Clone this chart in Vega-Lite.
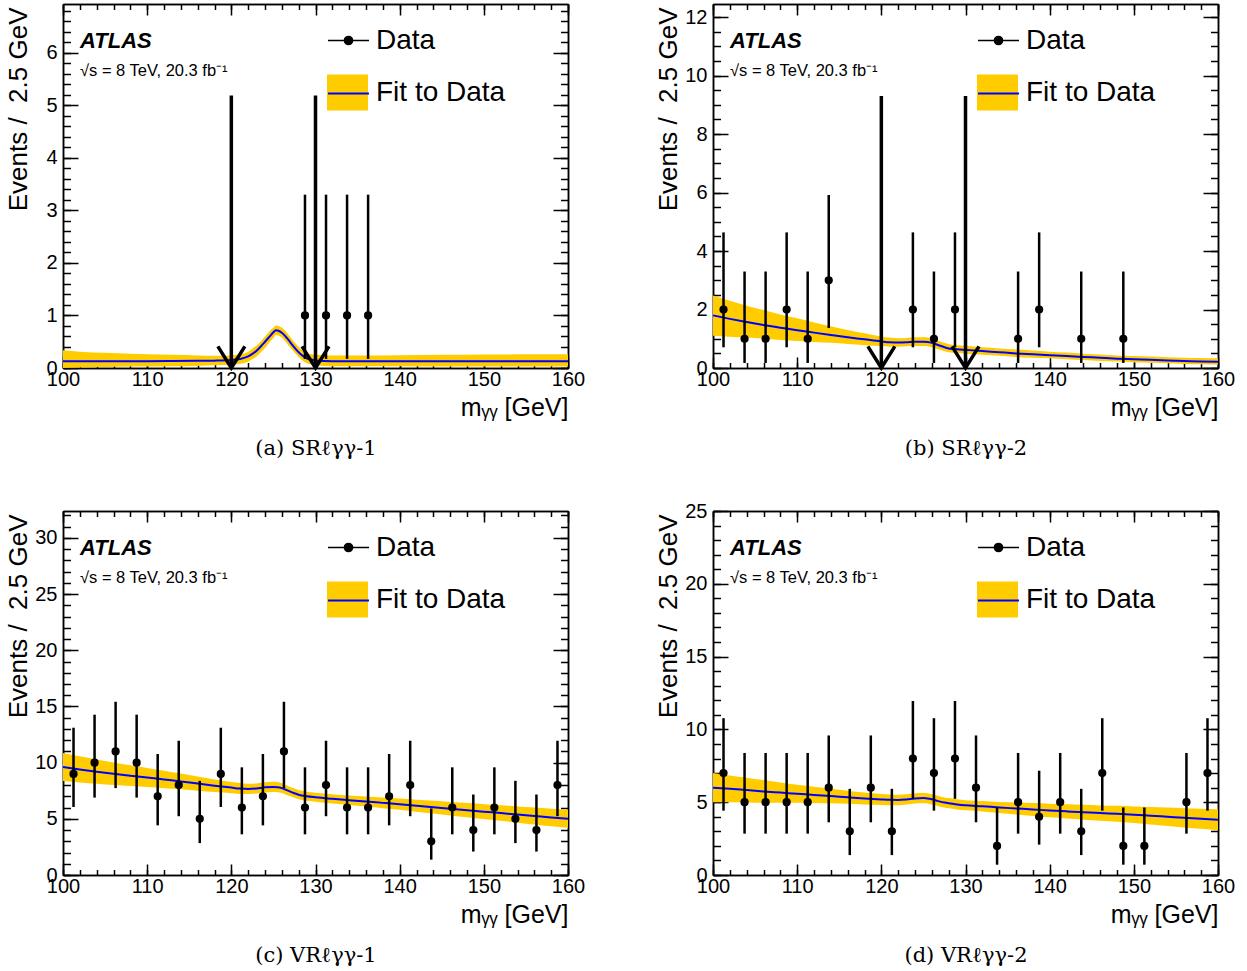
{
  "$schema": "https://vega.github.io/schema/vega-lite/v6.json",
  "background": "white",
  "padding": {"left": 4, "top": 3, "right": 5, "bottom": 5},
  "columns": 2,
  "spacing": {"column": 145, "row": 143},
  "bounds": "flush",
  "resolve": {"scale": {"fill": "independent", "stroke": "independent", "opacity": "independent"}},
  "datasets": {
    "fitA": [
      {"x": 100, "y": 0.13, "lo": 0.0, "hi": 0.34},
      {"x": 102, "y": 0.13, "lo": 0.01, "hi": 0.31},
      {"x": 105, "y": 0.13, "lo": 0.02, "hi": 0.29},
      {"x": 108, "y": 0.13, "lo": 0.03, "hi": 0.27},
      {"x": 110, "y": 0.13, "lo": 0.03, "hi": 0.26},
      {"x": 113, "y": 0.133, "lo": 0.035, "hi": 0.25},
      {"x": 116, "y": 0.137, "lo": 0.04, "hi": 0.24},
      {"x": 118, "y": 0.14, "lo": 0.05, "hi": 0.235},
      {"x": 120, "y": 0.15, "lo": 0.06, "hi": 0.24},
      {"x": 121, "y": 0.17, "lo": 0.08, "hi": 0.26},
      {"x": 122, "y": 0.22, "lo": 0.12, "hi": 0.31},
      {"x": 122.5, "y": 0.27, "lo": 0.17, "hi": 0.37},
      {"x": 123, "y": 0.33, "lo": 0.22, "hi": 0.43},
      {"x": 123.5, "y": 0.41, "lo": 0.3, "hi": 0.51},
      {"x": 124, "y": 0.5, "lo": 0.38, "hi": 0.6},
      {"x": 124.5, "y": 0.59, "lo": 0.48, "hi": 0.69},
      {"x": 125, "y": 0.68, "lo": 0.57, "hi": 0.77},
      {"x": 125.3, "y": 0.72, "lo": 0.63, "hi": 0.81},
      {"x": 125.6, "y": 0.71, "lo": 0.62, "hi": 0.8},
      {"x": 126, "y": 0.67, "lo": 0.58, "hi": 0.77},
      {"x": 126.5, "y": 0.59, "lo": 0.49, "hi": 0.69},
      {"x": 127, "y": 0.49, "lo": 0.39, "hi": 0.59},
      {"x": 127.5, "y": 0.39, "lo": 0.3, "hi": 0.49},
      {"x": 128, "y": 0.3, "lo": 0.21, "hi": 0.4},
      {"x": 128.5, "y": 0.23, "lo": 0.14, "hi": 0.33},
      {"x": 129, "y": 0.18, "lo": 0.09, "hi": 0.28},
      {"x": 129.5, "y": 0.16, "lo": 0.07, "hi": 0.26},
      {"x": 130, "y": 0.145, "lo": 0.05, "hi": 0.25},
      {"x": 131, "y": 0.135, "lo": 0.04, "hi": 0.24},
      {"x": 133, "y": 0.13, "lo": 0.035, "hi": 0.24},
      {"x": 136, "y": 0.13, "lo": 0.035, "hi": 0.24},
      {"x": 140, "y": 0.13, "lo": 0.035, "hi": 0.245},
      {"x": 145, "y": 0.13, "lo": 0.03, "hi": 0.25},
      {"x": 150, "y": 0.13, "lo": 0.03, "hi": 0.255},
      {"x": 155, "y": 0.13, "lo": 0.03, "hi": 0.26},
      {"x": 160, "y": 0.13, "lo": 0.03, "hi": 0.26}
    ],
    "ptsA": [
      {"x": 128.75, "n": 1, "lo": 0.173, "hi": 3.3},
      {"x": 131.25, "n": 1, "lo": 0.173, "hi": 3.3},
      {"x": 133.75, "n": 1, "lo": 0.173, "hi": 3.3},
      {"x": 136.25, "n": 1, "lo": 0.173, "hi": 3.3}
    ],
    "arrA": [
      {"x": 120, "y0": 0, "y1": 5.19},
      {"x": 130, "y0": 0, "y1": 5.19}
    ],
    "fitB": [
      {"x": 100, "y": 1.8, "lo": 1.1, "hi": 2.48},
      {"x": 102, "y": 1.68, "lo": 1.07, "hi": 2.3},
      {"x": 104, "y": 1.57, "lo": 1.04, "hi": 2.13},
      {"x": 106, "y": 1.47, "lo": 1.0, "hi": 1.98},
      {"x": 108, "y": 1.38, "lo": 0.96, "hi": 1.83},
      {"x": 110, "y": 1.29, "lo": 0.92, "hi": 1.7},
      {"x": 112, "y": 1.21, "lo": 0.89, "hi": 1.56},
      {"x": 114, "y": 1.13, "lo": 0.86, "hi": 1.43},
      {"x": 116, "y": 1.05, "lo": 0.82, "hi": 1.3},
      {"x": 118, "y": 0.98, "lo": 0.78, "hi": 1.19},
      {"x": 120, "y": 0.91, "lo": 0.75, "hi": 1.08},
      {"x": 121, "y": 0.88, "lo": 0.73, "hi": 1.04},
      {"x": 122, "y": 0.87, "lo": 0.73, "hi": 1.02},
      {"x": 123, "y": 0.88, "lo": 0.74, "hi": 1.03},
      {"x": 124, "y": 0.9, "lo": 0.75, "hi": 1.05},
      {"x": 125, "y": 0.9, "lo": 0.75, "hi": 1.05},
      {"x": 125.5, "y": 0.89, "lo": 0.74, "hi": 1.04},
      {"x": 126, "y": 0.86, "lo": 0.71, "hi": 1.01},
      {"x": 126.5, "y": 0.81, "lo": 0.67, "hi": 0.96},
      {"x": 127, "y": 0.76, "lo": 0.62, "hi": 0.91},
      {"x": 127.5, "y": 0.71, "lo": 0.57, "hi": 0.86},
      {"x": 128, "y": 0.67, "lo": 0.54, "hi": 0.81},
      {"x": 129, "y": 0.64, "lo": 0.51, "hi": 0.78},
      {"x": 130, "y": 0.62, "lo": 0.49, "hi": 0.76},
      {"x": 132, "y": 0.58, "lo": 0.45, "hi": 0.71},
      {"x": 134, "y": 0.54, "lo": 0.42, "hi": 0.67},
      {"x": 136, "y": 0.5, "lo": 0.38, "hi": 0.63},
      {"x": 138, "y": 0.47, "lo": 0.35, "hi": 0.6},
      {"x": 140, "y": 0.44, "lo": 0.33, "hi": 0.56},
      {"x": 142, "y": 0.41, "lo": 0.3, "hi": 0.53},
      {"x": 144, "y": 0.38, "lo": 0.27, "hi": 0.49},
      {"x": 146, "y": 0.35, "lo": 0.24, "hi": 0.46},
      {"x": 148, "y": 0.32, "lo": 0.22, "hi": 0.43},
      {"x": 150, "y": 0.3, "lo": 0.2, "hi": 0.41},
      {"x": 152, "y": 0.28, "lo": 0.18, "hi": 0.39},
      {"x": 154, "y": 0.26, "lo": 0.16, "hi": 0.37},
      {"x": 156, "y": 0.24, "lo": 0.14, "hi": 0.35},
      {"x": 158, "y": 0.22, "lo": 0.13, "hi": 0.34},
      {"x": 160, "y": 0.21, "lo": 0.12, "hi": 0.33}
    ],
    "ptsB": [
      {"x": 101.25, "n": 2, "lo": 0.708, "hi": 4.638},
      {"x": 103.75, "n": 1, "lo": 0.173, "hi": 3.3},
      {"x": 106.25, "n": 1, "lo": 0.173, "hi": 3.3},
      {"x": 108.75, "n": 2, "lo": 0.708, "hi": 4.638},
      {"x": 111.25, "n": 1, "lo": 0.173, "hi": 3.3},
      {"x": 113.75, "n": 3, "lo": 1.367, "hi": 5.918},
      {"x": 123.75, "n": 2, "lo": 0.708, "hi": 4.638},
      {"x": 126.25, "n": 1, "lo": 0.173, "hi": 3.3},
      {"x": 128.75, "n": 2, "lo": 0.708, "hi": 4.638},
      {"x": 136.25, "n": 1, "lo": 0.173, "hi": 3.3},
      {"x": 138.75, "n": 2, "lo": 0.708, "hi": 4.638},
      {"x": 143.75, "n": 1, "lo": 0.173, "hi": 3.3},
      {"x": 148.75, "n": 1, "lo": 0.173, "hi": 3.3}
    ],
    "arrB": [
      {"x": 120, "y0": 0, "y1": 9.3},
      {"x": 130, "y0": 0, "y1": 9.3}
    ],
    "fitC": [
      {"x": 100, "y": 9.62, "lo": 8.37, "hi": 10.87},
      {"x": 102, "y": 9.4, "lo": 8.24, "hi": 10.56},
      {"x": 104, "y": 9.2, "lo": 8.12, "hi": 10.28},
      {"x": 106, "y": 9.01, "lo": 8.01, "hi": 10.01},
      {"x": 108, "y": 8.84, "lo": 7.92, "hi": 9.76},
      {"x": 110, "y": 8.68, "lo": 7.83, "hi": 9.53},
      {"x": 112, "y": 8.5, "lo": 7.72, "hi": 9.28},
      {"x": 114, "y": 8.33, "lo": 7.63, "hi": 9.03},
      {"x": 116, "y": 8.14, "lo": 7.51, "hi": 8.77},
      {"x": 118, "y": 7.95, "lo": 7.39, "hi": 8.51},
      {"x": 120, "y": 7.78, "lo": 7.28, "hi": 8.28},
      {"x": 121, "y": 7.7, "lo": 7.22, "hi": 8.18},
      {"x": 122, "y": 7.66, "lo": 7.2, "hi": 8.12},
      {"x": 123, "y": 7.7, "lo": 7.25, "hi": 8.15},
      {"x": 124, "y": 7.8, "lo": 7.35, "hi": 8.25},
      {"x": 125, "y": 7.84, "lo": 7.39, "hi": 8.29},
      {"x": 125.5, "y": 7.82, "lo": 7.37, "hi": 8.27},
      {"x": 126, "y": 7.73, "lo": 7.29, "hi": 8.17},
      {"x": 126.5, "y": 7.58, "lo": 7.15, "hi": 8.01},
      {"x": 127, "y": 7.42, "lo": 7.0, "hi": 7.84},
      {"x": 127.5, "y": 7.28, "lo": 6.87, "hi": 7.69},
      {"x": 128, "y": 7.15, "lo": 6.74, "hi": 7.56},
      {"x": 129, "y": 7.01, "lo": 6.61, "hi": 7.41},
      {"x": 130, "y": 6.92, "lo": 6.52, "hi": 7.32},
      {"x": 132, "y": 6.78, "lo": 6.37, "hi": 7.19},
      {"x": 134, "y": 6.66, "lo": 6.24, "hi": 7.08},
      {"x": 136, "y": 6.54, "lo": 6.1, "hi": 6.98},
      {"x": 138, "y": 6.42, "lo": 5.95, "hi": 6.89},
      {"x": 140, "y": 6.3, "lo": 5.8, "hi": 6.8},
      {"x": 142, "y": 6.17, "lo": 5.64, "hi": 6.7},
      {"x": 144, "y": 6.04, "lo": 5.47, "hi": 6.61},
      {"x": 146, "y": 5.9, "lo": 5.3, "hi": 6.5},
      {"x": 148, "y": 5.77, "lo": 5.14, "hi": 6.4},
      {"x": 150, "y": 5.64, "lo": 4.98, "hi": 6.3},
      {"x": 152, "y": 5.51, "lo": 4.82, "hi": 6.2},
      {"x": 154, "y": 5.38, "lo": 4.66, "hi": 6.1},
      {"x": 156, "y": 5.25, "lo": 4.5, "hi": 6.0},
      {"x": 158, "y": 5.12, "lo": 4.34, "hi": 5.9},
      {"x": 160, "y": 5.0, "lo": 4.2, "hi": 5.8}
    ],
    "ptsC": [
      {"x": 101.25, "n": 9, "lo": 6.057, "hi": 13.11},
      {"x": 103.75, "n": 10, "lo": 6.891, "hi": 14.27},
      {"x": 106.25, "n": 11, "lo": 7.734, "hi": 15.42},
      {"x": 108.75, "n": 10, "lo": 6.891, "hi": 14.27},
      {"x": 111.25, "n": 7, "lo": 4.419, "hi": 10.77},
      {"x": 113.75, "n": 8, "lo": 5.232, "hi": 11.95},
      {"x": 116.25, "n": 5, "lo": 2.84, "hi": 8.382},
      {"x": 118.75, "n": 9, "lo": 6.057, "hi": 13.11},
      {"x": 121.25, "n": 6, "lo": 3.62, "hi": 9.584},
      {"x": 123.75, "n": 7, "lo": 4.419, "hi": 10.77},
      {"x": 126.25, "n": 11, "lo": 7.734, "hi": 15.42},
      {"x": 128.75, "n": 6, "lo": 3.62, "hi": 9.584},
      {"x": 131.25, "n": 8, "lo": 5.232, "hi": 11.95},
      {"x": 133.75, "n": 6, "lo": 3.62, "hi": 9.584},
      {"x": 136.25, "n": 6, "lo": 3.62, "hi": 9.584},
      {"x": 138.75, "n": 7, "lo": 4.419, "hi": 10.77},
      {"x": 141.25, "n": 8, "lo": 5.232, "hi": 11.95},
      {"x": 143.75, "n": 3, "lo": 1.367, "hi": 5.918},
      {"x": 146.25, "n": 6, "lo": 3.62, "hi": 9.584},
      {"x": 148.75, "n": 4, "lo": 2.086, "hi": 7.163},
      {"x": 151.25, "n": 6, "lo": 3.62, "hi": 9.584},
      {"x": 153.75, "n": 5, "lo": 2.84, "hi": 8.382},
      {"x": 156.25, "n": 4, "lo": 2.086, "hi": 7.163},
      {"x": 158.75, "n": 8, "lo": 5.232, "hi": 11.95}
    ],
    "fitD": [
      {"x": 100, "y": 6.0, "lo": 5.0, "hi": 7.0},
      {"x": 102, "y": 5.92, "lo": 5.0, "hi": 6.84},
      {"x": 104, "y": 5.83, "lo": 4.98, "hi": 6.68},
      {"x": 106, "y": 5.74, "lo": 4.96, "hi": 6.52},
      {"x": 108, "y": 5.66, "lo": 4.96, "hi": 6.36},
      {"x": 110, "y": 5.58, "lo": 4.96, "hi": 6.2},
      {"x": 112, "y": 5.5, "lo": 4.94, "hi": 6.06},
      {"x": 114, "y": 5.42, "lo": 4.92, "hi": 5.92},
      {"x": 116, "y": 5.34, "lo": 4.89, "hi": 5.79},
      {"x": 118, "y": 5.26, "lo": 4.85, "hi": 5.67},
      {"x": 120, "y": 5.19, "lo": 4.81, "hi": 5.57},
      {"x": 121, "y": 5.16, "lo": 4.79, "hi": 5.53},
      {"x": 122, "y": 5.15, "lo": 4.79, "hi": 5.51},
      {"x": 123, "y": 5.19, "lo": 4.84, "hi": 5.54},
      {"x": 124, "y": 5.26, "lo": 4.91, "hi": 5.61},
      {"x": 125, "y": 5.28, "lo": 4.93, "hi": 5.63},
      {"x": 125.5, "y": 5.26, "lo": 4.91, "hi": 5.61},
      {"x": 126, "y": 5.2, "lo": 4.85, "hi": 5.55},
      {"x": 126.5, "y": 5.12, "lo": 4.77, "hi": 5.47},
      {"x": 127, "y": 5.04, "lo": 4.69, "hi": 5.39},
      {"x": 127.5, "y": 4.98, "lo": 4.63, "hi": 5.33},
      {"x": 128, "y": 4.93, "lo": 4.58, "hi": 5.28},
      {"x": 129, "y": 4.85, "lo": 4.5, "hi": 5.2},
      {"x": 130, "y": 4.79, "lo": 4.44, "hi": 5.14},
      {"x": 132, "y": 4.72, "lo": 4.36, "hi": 5.08},
      {"x": 134, "y": 4.64, "lo": 4.26, "hi": 5.02},
      {"x": 136, "y": 4.57, "lo": 4.16, "hi": 4.98},
      {"x": 138, "y": 4.5, "lo": 4.06, "hi": 4.94},
      {"x": 140, "y": 4.43, "lo": 3.96, "hi": 4.9},
      {"x": 142, "y": 4.37, "lo": 3.88, "hi": 4.86},
      {"x": 144, "y": 4.31, "lo": 3.8, "hi": 4.82},
      {"x": 146, "y": 4.25, "lo": 3.72, "hi": 4.78},
      {"x": 148, "y": 4.2, "lo": 3.65, "hi": 4.75},
      {"x": 150, "y": 4.14, "lo": 3.57, "hi": 4.71},
      {"x": 152, "y": 4.07, "lo": 3.47, "hi": 4.67},
      {"x": 154, "y": 4.0, "lo": 3.37, "hi": 4.63},
      {"x": 156, "y": 3.93, "lo": 3.27, "hi": 4.59},
      {"x": 158, "y": 3.86, "lo": 3.17, "hi": 4.55},
      {"x": 160, "y": 3.79, "lo": 3.07, "hi": 4.51}
    ],
    "ptsD": [
      {"x": 101.25, "n": 7, "lo": 4.419, "hi": 10.77},
      {"x": 103.75, "n": 5, "lo": 2.84, "hi": 8.382},
      {"x": 106.25, "n": 5, "lo": 2.84, "hi": 8.382},
      {"x": 108.75, "n": 5, "lo": 2.84, "hi": 8.382},
      {"x": 111.25, "n": 5, "lo": 2.84, "hi": 8.382},
      {"x": 113.75, "n": 6, "lo": 3.62, "hi": 9.584},
      {"x": 116.25, "n": 3, "lo": 1.367, "hi": 5.918},
      {"x": 118.75, "n": 6, "lo": 3.62, "hi": 9.584},
      {"x": 121.25, "n": 3, "lo": 1.367, "hi": 5.918},
      {"x": 123.75, "n": 8, "lo": 5.232, "hi": 11.95},
      {"x": 126.25, "n": 7, "lo": 4.419, "hi": 10.77},
      {"x": 128.75, "n": 8, "lo": 5.232, "hi": 11.95},
      {"x": 131.25, "n": 6, "lo": 3.62, "hi": 9.584},
      {"x": 133.75, "n": 2, "lo": 0.708, "hi": 4.638},
      {"x": 136.25, "n": 5, "lo": 2.84, "hi": 8.382},
      {"x": 138.75, "n": 4, "lo": 2.086, "hi": 7.163},
      {"x": 141.25, "n": 5, "lo": 2.84, "hi": 8.382},
      {"x": 143.75, "n": 3, "lo": 1.367, "hi": 5.918},
      {"x": 146.25, "n": 7, "lo": 4.419, "hi": 10.77},
      {"x": 148.75, "n": 2, "lo": 0.708, "hi": 4.638},
      {"x": 151.25, "n": 2, "lo": 0.708, "hi": 4.638},
      {"x": 156.25, "n": 5, "lo": 2.84, "hi": 8.382},
      {"x": 158.75, "n": 7, "lo": 4.419, "hi": 10.77}
    ]
  },
  "concat": [
    {
      "width": 505, "height": 364,
      "title": {"text": "ATLAS", "subtitle": "√s = 8 TeV, 20.3 fb⁻¹"},
      "resolve": {"axis": {"x": "independent", "y": "independent"}},
      "layer": [
        {"data": {"name": "fitA"}, "mark": {"type": "area", "interpolate": "monotone"},
         "encoding": {
           "x": {"field": "x", "type": "quantitative", "scale": {"domain": [100, 160], "nice": false},
                 "axis": {"orient": "bottom", "values": [100,110,120,130,140,150,160], "tickSize": -11, "labelPadding": 12, "title": "mᵧᵧ [GeV]", "titleAnchor": "end", "titleBaseline": "alphabetic", "titleY": 47}},
           "y": {"field": "lo", "type": "quantitative", "scale": {"domain": [0, 6.93], "nice": false},
                 "axis": {"orient": "left", "values": [0,1,2,3,4,5,6], "tickSize": -15, "labelPadding": 21, "title": "Events / \u00a02.5 GeV", "titleFontSize": 26, "titleAnchor": "end", "titleX": -32, "titleY": 3}},
           "y2": {"field": "hi"},
           "fill": {"datum": "Fit to Data", "scale": {"range": ["#ffcc00"]},
                    "legend": {"orient": "none", "legendX": 264, "legendY": 68, "title": null, "symbolType": "M-1,-0.88H1V0.88H-1Z", "symbolStrokeWidth": 0, "labelOffset": 8}}
         }},
        {"data": {"name": "fitA"}, "mark": {"type": "line", "interpolate": "monotone", "strokeWidth": 2},
         "encoding": {
           "x": {"field": "x", "type": "quantitative", "scale": {"domain": [100, 160], "nice": false},
                 "axis": {"orient": "top", "values": [100,110,120,130,140,150,160], "tickSize": -11, "labels": false, "title": null}},
           "y": {"field": "y", "type": "quantitative", "scale": {"domain": [0, 6.93], "nice": false},
                 "axis": {"orient": "right", "values": [0,1,2,3,4,5,6], "tickSize": -15, "labels": false, "title": null}},
           "stroke": {"datum": "Fit", "scale": {"range": ["#0000ff"]},
                      "legend": {"orient": "none", "legendX": 264, "legendY": 68, "title": null, "symbolType": "M-1,0H1", "symbolStrokeWidth": 2, "labelExpr": "''"}}
         }},
        {"data": {"name": "ptsA"}, "mark": {"type": "rule", "color": "black", "strokeWidth": 2.5},
         "encoding": {
           "x": {"field": "x", "type": "quantitative", "scale": {"domain": [100, 160], "nice": false},
                 "axis": {"orient": "bottom", "values": [100,102,104,106,108,110,112,114,116,118,120,122,124,126,128,130,132,134,136,138,140,142,144,146,148,150,152,154,156,158,160], "tickSize": -5.5, "labels": false, "title": "(a) SRℓγγ-1", "titleFont": "DejaVu Serif", "titleFontSize": 21, "titleAnchor": "middle", "titleBaseline": "alphabetic", "titleY": 86}},
           "y": {"field": "lo", "type": "quantitative", "scale": {"domain": [0, 6.93], "nice": false},
                 "axis": {"orient": "left", "values": [0,0.2,0.4,0.6,0.8,1,1.2,1.4,1.6,1.8,2,2.2,2.4,2.6,2.8,3,3.2,3.4,3.6,3.8,4,4.2,4.4,4.6,4.8,5,5.2,5.4,5.6,5.8,6,6.2,6.4,6.6,6.8], "tickSize": -7.5, "labels": false, "title": null}},
           "y2": {"field": "hi"}
         }},
        {"data": {"name": "ptsA"}, "mark": {"type": "point", "filled": true, "color": "black", "stroke": "black", "strokeWidth": 1.5, "size": 45},
         "encoding": {
           "x": {"field": "x", "type": "quantitative", "scale": {"domain": [100, 160], "nice": false},
                 "axis": {"orient": "top", "values": [100,102,104,106,108,110,112,114,116,118,120,122,124,126,128,130,132,134,136,138,140,142,144,146,148,150,152,154,156,158,160], "tickSize": -5.5, "labels": false, "title": null}},
           "y": {"field": "n", "type": "quantitative", "scale": {"domain": [0, 6.93], "nice": false},
                 "axis": {"orient": "right", "values": [0,0.2,0.4,0.6,0.8,1,1.2,1.4,1.6,1.8,2,2.2,2.4,2.6,2.8,3,3.2,3.4,3.6,3.8,4,4.2,4.4,4.6,4.8,5,5.2,5.4,5.6,5.8,6,6.2,6.4,6.6,6.8], "tickSize": -7.5, "labels": false, "title": null}},
           "opacity": {"datum": "Data", "scale": {"range": [1]},
                       "legend": {"orient": "none", "legendX": 264, "legendY": 15, "title": null, "labelOffset": 6, "symbolType": "M-1,0H1M-0.2,0A0.2,0.2,0,1,1,0.2,0A0.2,0.2,0,1,1,-0.2,0Z"}}
         }},
        {"data": {"name": "arrA"}, "mark": {"type": "rule", "color": "black", "strokeWidth": 3.5},
         "encoding": {
           "x": {"field": "x", "type": "quantitative", "scale": {"domain": [100, 160], "nice": false}, "axis": null},
           "y": {"field": "y0", "type": "quantitative", "scale": {"domain": [0, 6.93], "nice": false}, "axis": null},
           "y2": {"field": "y1"}
         }},
        {"data": {"name": "arrA"}, "mark": {"type": "point", "shape": "M-1,-1.6L0,0L1,-1.6", "filled": false, "color": "black", "strokeWidth": 3.5, "size": 729, "opacity": 1},
         "encoding": {
           "x": {"field": "x", "type": "quantitative", "scale": {"domain": [100, 160], "nice": false}, "axis": null},
           "y": {"field": "y0", "type": "quantitative", "scale": {"domain": [0, 6.93], "nice": false}, "axis": null}
         }}
      ]
    },
    {
      "width": 505, "height": 364,
      "title": {"text": "ATLAS", "subtitle": "√s = 8 TeV, 20.3 fb⁻¹"},
      "resolve": {"axis": {"x": "independent", "y": "independent"}},
      "layer": [
        {"data": {"name": "fitB"}, "mark": {"type": "area", "interpolate": "monotone"},
         "encoding": {
           "x": {"field": "x", "type": "quantitative", "scale": {"domain": [100, 160], "nice": false},
                 "axis": {"orient": "bottom", "values": [100,110,120,130,140,150,160], "tickSize": -11, "labelPadding": 12, "title": "mᵧᵧ [GeV]", "titleAnchor": "end", "titleBaseline": "alphabetic", "titleY": 47}},
           "y": {"field": "lo", "type": "quantitative", "scale": {"domain": [0, 12.45], "nice": false},
                 "axis": {"orient": "left", "values": [0,2,4,6,8,10,12], "tickSize": -15, "labelPadding": 21, "title": "Events / \u00a02.5 GeV", "titleFontSize": 26, "titleAnchor": "end", "titleX": -32, "titleY": 3}},
           "y2": {"field": "hi"},
           "fill": {"datum": "Fit to Data", "scale": {"range": ["#ffcc00"]},
                    "legend": {"orient": "none", "legendX": 264, "legendY": 68, "title": null, "symbolType": "M-1,-0.88H1V0.88H-1Z", "symbolStrokeWidth": 0, "labelOffset": 8}}
         }},
        {"data": {"name": "fitB"}, "mark": {"type": "line", "interpolate": "monotone", "strokeWidth": 2},
         "encoding": {
           "x": {"field": "x", "type": "quantitative", "scale": {"domain": [100, 160], "nice": false},
                 "axis": {"orient": "top", "values": [100,110,120,130,140,150,160], "tickSize": -11, "labels": false, "title": null}},
           "y": {"field": "y", "type": "quantitative", "scale": {"domain": [0, 12.45], "nice": false},
                 "axis": {"orient": "right", "values": [0,2,4,6,8,10,12], "tickSize": -15, "labels": false, "title": null}},
           "stroke": {"datum": "Fit", "scale": {"range": ["#0000ff"]},
                      "legend": {"orient": "none", "legendX": 264, "legendY": 68, "title": null, "symbolType": "M-1,0H1", "symbolStrokeWidth": 2, "labelExpr": "''"}}
         }},
        {"data": {"name": "ptsB"}, "mark": {"type": "rule", "color": "black", "strokeWidth": 2.5},
         "encoding": {
           "x": {"field": "x", "type": "quantitative", "scale": {"domain": [100, 160], "nice": false},
                 "axis": {"orient": "bottom", "values": [100,102,104,106,108,110,112,114,116,118,120,122,124,126,128,130,132,134,136,138,140,142,144,146,148,150,152,154,156,158,160], "tickSize": -5.5, "labels": false, "title": "(b) SRℓγγ-2", "titleFont": "DejaVu Serif", "titleFontSize": 21, "titleAnchor": "middle", "titleBaseline": "alphabetic", "titleY": 86}},
           "y": {"field": "lo", "type": "quantitative", "scale": {"domain": [0, 12.45], "nice": false},
                 "axis": {"orient": "left", "values": [0,0.5,1,1.5,2,2.5,3,3.5,4,4.5,5,5.5,6,6.5,7,7.5,8,8.5,9,9.5,10,10.5,11,11.5,12], "tickSize": -7.5, "labels": false, "title": null}},
           "y2": {"field": "hi"}
         }},
        {"data": {"name": "ptsB"}, "mark": {"type": "point", "filled": true, "color": "black", "stroke": "black", "strokeWidth": 1.5, "size": 45},
         "encoding": {
           "x": {"field": "x", "type": "quantitative", "scale": {"domain": [100, 160], "nice": false},
                 "axis": {"orient": "top", "values": [100,102,104,106,108,110,112,114,116,118,120,122,124,126,128,130,132,134,136,138,140,142,144,146,148,150,152,154,156,158,160], "tickSize": -5.5, "labels": false, "title": null}},
           "y": {"field": "n", "type": "quantitative", "scale": {"domain": [0, 12.45], "nice": false},
                 "axis": {"orient": "right", "values": [0,0.5,1,1.5,2,2.5,3,3.5,4,4.5,5,5.5,6,6.5,7,7.5,8,8.5,9,9.5,10,10.5,11,11.5,12], "tickSize": -7.5, "labels": false, "title": null}},
           "opacity": {"datum": "Data", "scale": {"range": [1]},
                       "legend": {"orient": "none", "legendX": 264, "legendY": 15, "title": null, "labelOffset": 6, "symbolType": "M-1,0H1M-0.2,0A0.2,0.2,0,1,1,0.2,0A0.2,0.2,0,1,1,-0.2,0Z"}}
         }},
        {"data": {"name": "arrB"}, "mark": {"type": "rule", "color": "black", "strokeWidth": 3.5},
         "encoding": {
           "x": {"field": "x", "type": "quantitative", "scale": {"domain": [100, 160], "nice": false}, "axis": null},
           "y": {"field": "y0", "type": "quantitative", "scale": {"domain": [0, 12.45], "nice": false}, "axis": null},
           "y2": {"field": "y1"}
         }},
        {"data": {"name": "arrB"}, "mark": {"type": "point", "shape": "M-1,-1.6L0,0L1,-1.6", "filled": false, "color": "black", "strokeWidth": 3.5, "size": 729, "opacity": 1},
         "encoding": {
           "x": {"field": "x", "type": "quantitative", "scale": {"domain": [100, 160], "nice": false}, "axis": null},
           "y": {"field": "y0", "type": "quantitative", "scale": {"domain": [0, 12.45], "nice": false}, "axis": null}
         }}
      ]
    },
    {
      "width": 505, "height": 364,
      "title": {"text": "ATLAS", "subtitle": "√s = 8 TeV, 20.3 fb⁻¹"},
      "resolve": {"axis": {"x": "independent", "y": "independent"}},
      "layer": [
        {"data": {"name": "fitC"}, "mark": {"type": "area", "interpolate": "monotone"},
         "encoding": {
           "x": {"field": "x", "type": "quantitative", "scale": {"domain": [100, 160], "nice": false},
                 "axis": {"orient": "bottom", "values": [100,110,120,130,140,150,160], "tickSize": -11, "labelPadding": 12, "title": "mᵧᵧ [GeV]", "titleAnchor": "end", "titleBaseline": "alphabetic", "titleY": 47}},
           "y": {"field": "lo", "type": "quantitative", "scale": {"domain": [0, 32.4], "nice": false},
                 "axis": {"orient": "left", "values": [0,5,10,15,20,25,30], "tickSize": -15, "labelPadding": 21, "title": "Events / \u00a02.5 GeV", "titleFontSize": 26, "titleAnchor": "end", "titleX": -32, "titleY": 3}},
           "y2": {"field": "hi"},
           "fill": {"datum": "Fit to Data", "scale": {"range": ["#ffcc00"]},
                    "legend": {"orient": "none", "legendX": 264, "legendY": 68, "title": null, "symbolType": "M-1,-0.88H1V0.88H-1Z", "symbolStrokeWidth": 0, "labelOffset": 8}}
         }},
        {"data": {"name": "fitC"}, "mark": {"type": "line", "interpolate": "monotone", "strokeWidth": 2},
         "encoding": {
           "x": {"field": "x", "type": "quantitative", "scale": {"domain": [100, 160], "nice": false},
                 "axis": {"orient": "top", "values": [100,110,120,130,140,150,160], "tickSize": -11, "labels": false, "title": null}},
           "y": {"field": "y", "type": "quantitative", "scale": {"domain": [0, 32.4], "nice": false},
                 "axis": {"orient": "right", "values": [0,5,10,15,20,25,30], "tickSize": -15, "labels": false, "title": null}},
           "stroke": {"datum": "Fit", "scale": {"range": ["#0000ff"]},
                      "legend": {"orient": "none", "legendX": 264, "legendY": 68, "title": null, "symbolType": "M-1,0H1", "symbolStrokeWidth": 2, "labelExpr": "''"}}
         }},
        {"data": {"name": "ptsC"}, "mark": {"type": "rule", "color": "black", "strokeWidth": 2.5},
         "encoding": {
           "x": {"field": "x", "type": "quantitative", "scale": {"domain": [100, 160], "nice": false},
                 "axis": {"orient": "bottom", "values": [100,102,104,106,108,110,112,114,116,118,120,122,124,126,128,130,132,134,136,138,140,142,144,146,148,150,152,154,156,158,160], "tickSize": -5.5, "labels": false, "title": "(c) VRℓγγ-1", "titleFont": "DejaVu Serif", "titleFontSize": 21, "titleAnchor": "middle", "titleBaseline": "alphabetic", "titleY": 86}},
           "y": {"field": "lo", "type": "quantitative", "scale": {"domain": [0, 32.4], "nice": false},
                 "axis": {"orient": "left", "values": [0,1,2,3,4,5,6,7,8,9,10,11,12,13,14,15,16,17,18,19,20,21,22,23,24,25,26,27,28,29,30,31,32], "tickSize": -7.5, "labels": false, "title": null}},
           "y2": {"field": "hi"}
         }},
        {"data": {"name": "ptsC"}, "mark": {"type": "point", "filled": true, "color": "black", "stroke": "black", "strokeWidth": 1.5, "size": 45},
         "encoding": {
           "x": {"field": "x", "type": "quantitative", "scale": {"domain": [100, 160], "nice": false},
                 "axis": {"orient": "top", "values": [100,102,104,106,108,110,112,114,116,118,120,122,124,126,128,130,132,134,136,138,140,142,144,146,148,150,152,154,156,158,160], "tickSize": -5.5, "labels": false, "title": null}},
           "y": {"field": "n", "type": "quantitative", "scale": {"domain": [0, 32.4], "nice": false},
                 "axis": {"orient": "right", "values": [0,1,2,3,4,5,6,7,8,9,10,11,12,13,14,15,16,17,18,19,20,21,22,23,24,25,26,27,28,29,30,31,32], "tickSize": -7.5, "labels": false, "title": null}},
           "opacity": {"datum": "Data", "scale": {"range": [1]},
                       "legend": {"orient": "none", "legendX": 264, "legendY": 15, "title": null, "labelOffset": 6, "symbolType": "M-1,0H1M-0.2,0A0.2,0.2,0,1,1,0.2,0A0.2,0.2,0,1,1,-0.2,0Z"}}
         }}
      ]
    },
    {
      "width": 505, "height": 364,
      "title": {"text": "ATLAS", "subtitle": "√s = 8 TeV, 20.3 fb⁻¹"},
      "resolve": {"axis": {"x": "independent", "y": "independent"}},
      "layer": [
        {"data": {"name": "fitD"}, "mark": {"type": "area", "interpolate": "monotone"},
         "encoding": {
           "x": {"field": "x", "type": "quantitative", "scale": {"domain": [100, 160], "nice": false},
                 "axis": {"orient": "bottom", "values": [100,110,120,130,140,150,160], "tickSize": -11, "labelPadding": 12, "title": "mᵧᵧ [GeV]", "titleAnchor": "end", "titleBaseline": "alphabetic", "titleY": 47}},
           "y": {"field": "lo", "type": "quantitative", "scale": {"domain": [0, 25], "nice": false},
                 "axis": {"orient": "left", "values": [0,5,10,15,20,25], "tickSize": -15, "labelPadding": 21, "title": "Events / \u00a02.5 GeV", "titleFontSize": 26, "titleAnchor": "end", "titleX": -32, "titleY": 3}},
           "y2": {"field": "hi"},
           "fill": {"datum": "Fit to Data", "scale": {"range": ["#ffcc00"]},
                    "legend": {"orient": "none", "legendX": 264, "legendY": 68, "title": null, "symbolType": "M-1,-0.88H1V0.88H-1Z", "symbolStrokeWidth": 0, "labelOffset": 8}}
         }},
        {"data": {"name": "fitD"}, "mark": {"type": "line", "interpolate": "monotone", "strokeWidth": 2},
         "encoding": {
           "x": {"field": "x", "type": "quantitative", "scale": {"domain": [100, 160], "nice": false},
                 "axis": {"orient": "top", "values": [100,110,120,130,140,150,160], "tickSize": -11, "labels": false, "title": null}},
           "y": {"field": "y", "type": "quantitative", "scale": {"domain": [0, 25], "nice": false},
                 "axis": {"orient": "right", "values": [0,5,10,15,20,25], "tickSize": -15, "labels": false, "title": null}},
           "stroke": {"datum": "Fit", "scale": {"range": ["#0000ff"]},
                      "legend": {"orient": "none", "legendX": 264, "legendY": 68, "title": null, "symbolType": "M-1,0H1", "symbolStrokeWidth": 2, "labelExpr": "''"}}
         }},
        {"data": {"name": "ptsD"}, "mark": {"type": "rule", "color": "black", "strokeWidth": 2.5},
         "encoding": {
           "x": {"field": "x", "type": "quantitative", "scale": {"domain": [100, 160], "nice": false},
                 "axis": {"orient": "bottom", "values": [100,102,104,106,108,110,112,114,116,118,120,122,124,126,128,130,132,134,136,138,140,142,144,146,148,150,152,154,156,158,160], "tickSize": -5.5, "labels": false, "title": "(d) VRℓγγ-2", "titleFont": "DejaVu Serif", "titleFontSize": 21, "titleAnchor": "middle", "titleBaseline": "alphabetic", "titleY": 86}},
           "y": {"field": "lo", "type": "quantitative", "scale": {"domain": [0, 25], "nice": false},
                 "axis": {"orient": "left", "values": [0,1,2,3,4,5,6,7,8,9,10,11,12,13,14,15,16,17,18,19,20,21,22,23,24,25], "tickSize": -7.5, "labels": false, "title": null}},
           "y2": {"field": "hi"}
         }},
        {"data": {"name": "ptsD"}, "mark": {"type": "point", "filled": true, "color": "black", "stroke": "black", "strokeWidth": 1.5, "size": 45},
         "encoding": {
           "x": {"field": "x", "type": "quantitative", "scale": {"domain": [100, 160], "nice": false},
                 "axis": {"orient": "top", "values": [100,102,104,106,108,110,112,114,116,118,120,122,124,126,128,130,132,134,136,138,140,142,144,146,148,150,152,154,156,158,160], "tickSize": -5.5, "labels": false, "title": null}},
           "y": {"field": "n", "type": "quantitative", "scale": {"domain": [0, 25], "nice": false},
                 "axis": {"orient": "right", "values": [0,1,2,3,4,5,6,7,8,9,10,11,12,13,14,15,16,17,18,19,20,21,22,23,24,25], "tickSize": -7.5, "labels": false, "title": null}},
           "opacity": {"datum": "Data", "scale": {"range": [1]},
                       "legend": {"orient": "none", "legendX": 264, "legendY": 15, "title": null, "labelOffset": 6, "symbolType": "M-1,0H1M-0.2,0A0.2,0.2,0,1,1,0.2,0A0.2,0.2,0,1,1,-0.2,0Z"}}
         }}
      ]
    }
  ],
  "config": {
    "view": {"stroke": null},
    "font": "Liberation Sans",
    "axis": {
      "grid": false, "domain": true, "domainColor": "black", "domainWidth": 1.5,
      "tickColor": "black", "tickWidth": 1.5,
      "labelFont": "Liberation Sans", "labelFontSize": 20, "labelColor": "black",
      "labelFlush": false, "labelOverlap": false, "labelBound": false,
      "titleFont": "Liberation Sans", "titleFontSize": 25, "titleFontWeight": "normal", "titleColor": "black",
      "zindex": 1
    },
    "legend": {
      "labelFont": "Liberation Sans", "labelFontSize": 28, "labelColor": "black",
      "padding": 0, "labelOffset": 5, "symbolSize": 1681, "labelLimit": 400, "rowPadding": 0
    },
    "title": {
      "orient": "bottom", "anchor": "start", "frame": "group", "offset": -427, "dx": 17,
      "font": "Liberation Sans", "fontSize": 22, "fontStyle": "italic", "fontWeight": "bold", "color": "black",
      "subtitleFont": "Liberation Sans", "subtitleFontSize": 16.5, "subtitleColor": "black",
      "subtitlePadding": 10, "subtitleFontStyle": "normal", "subtitleFontWeight": "normal"
    }
  }
}
